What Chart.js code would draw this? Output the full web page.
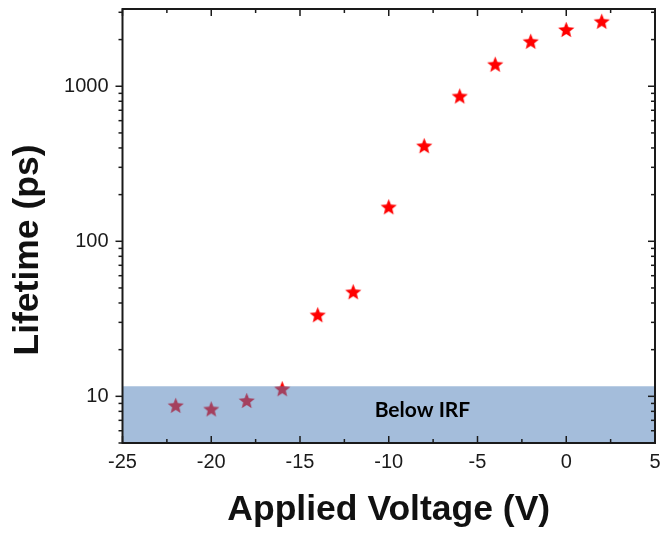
<!DOCTYPE html>
<html><head><meta charset="utf-8">
<script src="https://cdn.jsdelivr.net/npm/chart.js@4.4.0/dist/chart.umd.min.js"></script>
<style>html,body{margin:0;padding:0;background:#fff;}</style>
</head><body>
<canvas id="c" width="664" height="533" style="display:block"></canvas>
<script>
// ---- data ----
const voltages  = [-22, -20, -18, -16, -14, -12, -10, -8, -6, -4, -2, 0, 2];
const lifetimes = [8.75, 8.3, 9.4, 11.2, 33.6, 47.3, 167, 414, 866, 1387, 1950, 2325, 2625];
const irfBandX = [-25, 5];
const irfLimit = 11.6;
const xMajorTicks = [-25, -20, -15, -10, -5, 0, 5];
const xMinorTicks = [-22.5, -17.5, -12.5, -7.5, -2.5, 2.5];
const yMajorTicks = [10, 100, 1000];
const yMinorTicks = [5, 6, 7, 8, 9, 20, 30, 40, 50, 60, 70, 80, 90, 200, 300, 400, 500, 600, 700, 800, 900, 2000, 3000];
const xRange = [-25, 5];
const yRange = [5, 3150];
const xTitle = 'Applied Voltage (V)';
const yTitle = 'Lifetime (ps)';
const bandLabel = 'Below IRF';
const bandLabelAt = [-8.1, 8.1];

// ---- star marker ----
function makeStar(r, inner, color) {
  const size = Math.ceil(2 * r + 2);
  const c = document.createElement('canvas');
  c.width = size; c.height = size;
  const g = c.getContext('2d');
  g.fillStyle = color;
  const cx = size / 2, cy = size / 2 + r * (1 - Math.cos(Math.PI / 5)) / 2;
  g.beginPath();
  for (let i = 0; i < 10; i++) {
    const rad = i % 2 ? r * inner : r;
    const a = -Math.PI / 2 + i * Math.PI / 5;
    g.lineTo(cx + rad * Math.cos(a), cy + rad * Math.sin(a));
  }
  g.closePath(); g.fill();
  return c;
}
const starImg = makeStar(8.5, 0.44, '#ff0000');

const INK = '#1a1a1a';

const framePlugin = {
  id: 'frame',
  afterDraw(chart) {
    const ctx = chart.ctx, a = chart.chartArea;
    const xs = chart.scales.x, ys = chart.scales.y;
    ctx.save();
    ctx.strokeStyle = INK;
    ctx.lineWidth = 1.5;
    const tick = (x1, y1, x2, y2) => { ctx.beginPath(); ctx.moveTo(x1, y1); ctx.lineTo(x2, y2); ctx.stroke(); };
    xMajorTicks.forEach(v => { const p = xs.getPixelForValue(v); tick(p, a.bottom, p, a.bottom - 7); tick(p, a.top, p, a.top + 7); });
    xMinorTicks.forEach(v => { const p = xs.getPixelForValue(v); tick(p, a.bottom, p, a.bottom - 4); tick(p, a.top, p, a.top + 4); });
    yMajorTicks.forEach(v => { const p = ys.getPixelForValue(v); tick(a.left, p, a.left - 7, p); tick(a.right, p, a.right - 7, p); });
    yMinorTicks.forEach(v => { const p = ys.getPixelForValue(v); tick(a.left, p, a.left - 4, p); tick(a.right, p, a.right - 4, p); });
    ctx.lineWidth = 2;
    ctx.strokeRect(a.left, a.top, a.right - a.left, a.bottom - a.top);

    // band label
    ctx.fillStyle = '#000';
    ctx.font = 'bold 21px Lato, "Open Sans", sans-serif';
    ctx.textAlign = 'center'; ctx.textBaseline = 'middle';
    ctx.fillText(bandLabel, xs.getPixelForValue(bandLabelAt[0]), ys.getPixelForValue(bandLabelAt[1]));

    // axis titles
    ctx.fillStyle = '#111';
    ctx.font = 'bold 35.5px "Liberation Sans", Arial, sans-serif';
    ctx.textBaseline = 'alphabetic';
    ctx.fillText(xTitle, (a.left + a.right) / 2, a.bottom + 77);
    ctx.save();
    ctx.translate(a.left - 84.5, (a.top + a.bottom) / 2 + 24);
    ctx.rotate(-Math.PI / 2);
    ctx.fillText(yTitle, 0, 0);
    ctx.restore();
    ctx.restore();
  }
};

new Chart(document.getElementById('c'), {
  data: {
    datasets: [
      {
        type: 'line',
        label: 'IRF',
        data: irfBandX.map(x => ({ x: x, y: irfLimit })),
        borderWidth: 0,
        pointRadius: 0,
        fill: 'start',
        backgroundColor: 'rgba(76,126,185,0.51)',
        order: 0
      },
      {
        type: 'scatter',
        label: 'Lifetime',
        data: voltages.map((v, i) => ({ x: v, y: lifetimes[i] })),
        pointStyle: starImg,
        pointRadius: 8,
        order: 1
      }
    ]
  },
  options: {
    responsive: false,
    animation: false,
    devicePixelRatio: 1,
    layout: { padding: { top: 9, right: 7, left: 0, bottom: 0 } },
    plugins: { legend: { display: false }, tooltip: { enabled: false } },
    scales: {
      x: {
        type: 'linear', min: xRange[0], max: xRange[1],
        grid: { display: false, drawTicks: false },
        border: { display: false },
        afterBuildTicks: s => { s.ticks = xMajorTicks.map(v => ({ value: v })); },
        afterFit: s => { s.height = 90; s.paddingLeft = 0; s.paddingRight = 0; },
        ticks: { padding: 7, color: INK, font: { family: '"Liberation Sans", Arial', size: 20 }, maxRotation: 0, callback: v => String(v) }
      },
      y: {
        type: 'logarithmic', min: yRange[0], max: yRange[1],
        grid: { display: false, drawTicks: false },
        border: { display: false },
        afterBuildTicks: s => { s.ticks = yMajorTicks.map(v => ({ value: v })); },
        afterFit: s => { s.width = 122.5; s.paddingTop = 0; s.paddingBottom = 0; },
        ticks: { padding: 14, color: INK, font: { family: '"Liberation Sans", Arial', size: 20 }, callback: v => String(v) }
      }
    }
  },
  plugins: [framePlugin]
});
</script>
</body></html>
